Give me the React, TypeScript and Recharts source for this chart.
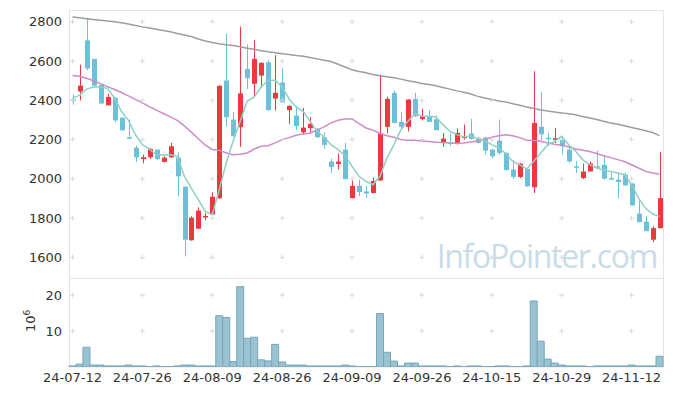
import React from 'react';
import { ComposedChart, Bar, Line, XAxis, YAxis, ReferenceDot } from 'recharts';

// trading days, 24-07-12 .. 24-11-18
const dates = [
  '24-07-12', '24-07-15', '24-07-16', '24-07-17', '24-07-18', '24-07-19', '24-07-22', '24-07-23', '24-07-24', '24-07-25',
  '24-07-26', '24-07-29', '24-07-30', '24-07-31', '24-08-01', '24-08-02', '24-08-05', '24-08-06', '24-08-07', '24-08-08',
  '24-08-09', '24-08-12', '24-08-13', '24-08-14', '24-08-16', '24-08-19', '24-08-20', '24-08-21', '24-08-22', '24-08-23',
  '24-08-26', '24-08-27', '24-08-28', '24-08-29', '24-08-30', '24-09-02', '24-09-03', '24-09-04', '24-09-05', '24-09-06',
  '24-09-09', '24-09-10', '24-09-11', '24-09-12', '24-09-13', '24-09-19', '24-09-20', '24-09-23', '24-09-24', '24-09-25',
  '24-09-26', '24-09-27', '24-09-30', '24-10-02', '24-10-04', '24-10-07', '24-10-08', '24-10-10', '24-10-11', '24-10-14',
  '24-10-15', '24-10-16', '24-10-17', '24-10-18', '24-10-21', '24-10-22', '24-10-23', '24-10-24', '24-10-25', '24-10-28',
  '24-10-29', '24-10-30', '24-10-31', '24-11-01', '24-11-04', '24-11-05', '24-11-06', '24-11-07', '24-11-08', '24-11-11',
  '24-11-12', '24-11-13', '24-11-14', '24-11-15', '24-11-18',
];

const opens = [
  2405, 2445, 2705, 2611, 2479, 2375, 2412, 2312, 2212, 2159,
  2101, 2110, 2149, 2086, 2110, 2108, 1960, 1687, 1746, 1807,
  1819, 1901, 2501, 2302, 2263, 2560, 2484, 2526, 2594, 2409,
  2491, 2350, 2322, 2237, 2258, 2256, 2212, 2088, 2076, 2149,
  1902, 1965, 1936, 1928, 1992, 2265, 2438, 2290, 2265, 2407,
  2305, 2319, 2304, 2183, 2185, 2183, 2210, 2231, 2205, 2210,
  2149, 2195, 2132, 2047, 2010, 2050, 1957, 2265, 2210, 2198,
  2200, 2149, 2064, 2004, 2038, 2064, 2071, 2004, 1996, 2021,
  1976, 1823, 1782, 1690, 1749,
];
const closes = [
  2398, 2475, 2562, 2475, 2384, 2417, 2298, 2248, 2205, 2110,
  2110, 2152, 2100, 2108, 2166, 2013, 1690, 1802, 1838, 1811,
  1909, 2474, 2314, 2217, 2435, 2513, 2611, 2591, 2350, 2438,
  2390, 2372, 2268, 2261, 2280, 2212, 2173, 2060, 2088, 1999,
  1964, 1933, 1925, 1989, 2231, 2407, 2285, 2265, 2404, 2319,
  2319, 2290, 2248, 2205, 2180, 2234, 2215, 2203, 2183, 2144,
  2115, 2132, 2045, 2010, 2078, 1962, 2285, 2227, 2207, 2207,
  2166, 2089, 2057, 2037, 2078, 2059, 2001, 1999, 1984, 1967,
  1865, 1780, 1734, 1749, 1902,
];
const highs = [
  2430, 2582, 2820, 2611, 2479, 2434, 2417, 2312, 2302, 2169,
  2123, 2156, 2149, 2115, 2183, 2135, 1960, 1809, 1855, 1826,
  1931, 2476, 2739, 2341, 2775, 2684, 2707, 2593, 2608, 2630,
  2564, 2374, 2370, 2361, 2314, 2258, 2237, 2103, 2129, 2183,
  1993, 1996, 1965, 2006, 2531, 2418, 2450, 2341, 2406, 2438,
  2356, 2350, 2322, 2234, 2234, 2256, 2276, 2305, 2214, 2214,
  2151, 2302, 2134, 2095, 2080, 2052, 2548, 2441, 2234, 2258,
  2217, 2166, 2089, 2078, 2089, 2144, 2120, 2033, 2033, 2033,
  1978, 1891, 1809, 1758, 2137,
];
const lows = [
  2378, 2400, 2553, 2468, 2380, 2373, 2288, 2244, 2203, 2086,
  2079, 2101, 2095, 2084, 2108, 1911, 1605, 1685, 1744, 1789,
  1817, 1899, 2268, 2215, 2163, 2458, 2416, 2463, 2348, 2348,
  2387, 2280, 2251, 2225, 2231, 2208, 2154, 2030, 2047, 1996,
  1900, 1911, 1902, 1926, 1990, 2231, 2283, 2256, 2242, 2316,
  2298, 2288, 2246, 2163, 2169, 2174, 2200, 2201, 2181, 2125,
  2103, 2123, 2043, 1999, 2004, 1960, 1928, 2197, 2166, 2183,
  2123, 2081, 2030, 1999, 2036, 2057, 1996, 1992, 1902, 1965,
  1863, 1778, 1732, 1678, 1747,
];

const ma5 = [
  2412, 2425, 2457, 2468, 2468, 2461, 2412, 2344, 2298, 2225,
  2174, 2151, 2124, 2121, 2123, 2115, 2013, 1953, 1894, 1834,
  1817, 1945, 2081, 2195, 2293, 2395, 2417, 2468, 2502, 2502,
  2468, 2407, 2366, 2344, 2293, 2242, 2213, 2174, 2149, 2118,
  2064, 2013, 1987, 1970, 2013, 2106, 2174, 2251, 2293, 2332,
  2319, 2319, 2315, 2276, 2242, 2225, 2213, 2220, 2205, 2195,
  2174, 2157, 2129, 2089, 2072, 2050, 2089, 2132, 2174, 2191,
  2217, 2174, 2140, 2098, 2072, 2055, 2044, 2038, 2030, 2021,
  1970, 1902, 1851, 1821, 1809,
];
const ma20 = [
  2526, 2522, 2512, 2500, 2485, 2470, 2455, 2440, 2423, 2405,
  2387, 2368, 2350, 2333, 2316, 2298, 2270, 2238, 2204, 2172,
  2150, 2146, 2132, 2123, 2125, 2132, 2152, 2166, 2169, 2183,
  2200, 2210, 2222, 2229, 2234, 2248, 2265, 2285, 2298, 2305,
  2305, 2281, 2259, 2248, 2231, 2220, 2212, 2200, 2196, 2196,
  2193, 2190, 2186, 2185, 2183, 2181, 2183, 2188, 2193, 2200,
  2212, 2220, 2224, 2220, 2210, 2196, 2195, 2191, 2183, 2176,
  2171, 2163, 2152, 2146, 2139, 2129, 2118, 2108, 2098, 2088,
  2072, 2055, 2038, 2030, 2025,
];
const ma120 = [
  2824, 2820, 2816, 2812, 2808, 2804, 2800, 2795, 2789, 2781,
  2774, 2768, 2762, 2756, 2749, 2740, 2733, 2725, 2712, 2702,
  2694, 2688, 2683, 2679, 2673, 2665, 2660, 2653, 2647, 2642,
  2637, 2633, 2628, 2624, 2618, 2611, 2604, 2598, 2584, 2570,
  2556, 2547, 2540, 2531, 2525, 2520, 2515, 2508, 2500, 2493,
  2486, 2480, 2474, 2465, 2457, 2448, 2441, 2432, 2420, 2412,
  2404, 2397, 2392, 2383, 2375, 2366, 2358, 2351, 2345, 2340,
  2336, 2331, 2326, 2318, 2310, 2302, 2293, 2285, 2278, 2270,
  2262, 2254, 2245, 2236, 2220,
];

// volume, millions
const volumes = [
  0.3, 0.8, 5.5, 0.55, 0.55, 0.3, 0.3, 0.3, 0.55, 0.3,
  0.3, 0.1, 0.3, 0.1, 0.1, 0.3, 0.55, 0.55, 0.3, 0.3,
  0.3, 14.3, 13.8, 1.5, 22.4, 8.0, 8.3, 2.0, 1.7, 6.3,
  1.4, 0.55, 0.55, 0.55, 0.3, 0.3, 0.3, 0.3, 0.3, 0.55,
  0.3, 0.1, 0.1, 0.1, 14.9, 4.1, 1.65, 0.3, 1.1, 1.1,
  0.3, 0.3, 0.3, 0.3, 0.1, 0.3, 0.1, 0.3, 0.3, 0.1,
  0.1, 0.3, 0.3, 0.1, 0.1, 0.3, 18.4, 7.2, 2.2, 1.1,
  0.55, 0.3, 0.3, 0.3, 0.1, 0.3, 0.3, 0.3, 0.3, 0.3,
  0.55, 0.3, 0.3, 0.3, 3.0,
];

const xTicks = ['24-07-12', '24-07-26', '24-08-09', '24-08-26', '24-09-09', '24-09-26', '24-10-15', '24-10-29', '24-11-12'];
const priceTicks = [1600, 1800, 2000, 2200, 2400, 2600, 2800];
const volTicks = [10, 20];

const RED = '#ec393d';
const BLUE = '#6cc1d8';
const GRID = '#d9d9d9';
const FRAME = '#e4e4e4';

const rows = dates.map((date, i) => ({
  date,
  open: opens[i],
  close: closes[i],
  high: highs[i],
  low: lows[i],
  range: [lows[i], highs[i]],
  ma5: ma5[i],
  ma20: ma20[i],
  ma120: ma120[i],
  vol: volumes[i],
}));

function Candle(props: any) {
  const { x, y, width, height, payload } = props;
  if (!payload) return null;
  const { open, close, high, low } = payload;
  const color = close >= open ? RED : BLUE;
  const top = Math.min(y, y + height);
  const h = Math.abs(height);
  const k = h / (high - low || 1);
  const cx = Math.round(x + width / 2) + 0.5;
  const bodyTop = top + (high - Math.max(open, close)) * k;
  const bodyH = Math.max(Math.abs(open - close) * k, 1.5);
  return (
    <g>
      <line x1={cx} x2={cx} y1={top} y2={top + h} stroke={color} strokeWidth={1} />
      <rect x={cx - 2.5} y={bodyTop} width={5} height={bodyH} fill={color} />
    </g>
  );
}

function Cross(props: any) {
  const { cx, cy } = props;
  return <path d={`M${cx - 2.5},${cy}h5M${cx},${cy - 2.5}v5`} stroke={GRID} strokeWidth={1} fill="none" />;
}

const tickStyle = { fontSize: 13, fill: '#333' };

export default function App() {
  return (
    <div style={{ position: 'absolute', left: 0, top: 0, width: 673, height: 396, background: '#fff', fontFamily: '"DejaVu Sans", sans-serif' }}>
      <svg width={673} height={396} style={{ position: 'absolute', left: 0, top: 0 }}>
        <rect x={69.5} y={10.5} width={594} height={356.5} fill="none" stroke={FRAME} />
        <line x1={69} x2={664} y1={278.5} y2={278.5} stroke={FRAME} />
        <text x={657} y={268} textAnchor="end" fontSize={32} letterSpacing={-1.3} fill="#c9dce6" fontFamily='"Open Sans", sans-serif'>
          InfoPointer.com
        </text>
        <text x={35} y={332} transform="rotate(-90 35 332)" fontSize={13} fill="#333">
          10<tspan dy={-5} fontSize={9}>6</tspan>
        </text>
      </svg>

      <div style={{ position: 'absolute', left: 0, top: 0 }}>
        <ComposedChart width={673} height={278} data={rows} margin={{ top: 10, right: 10, bottom: 0, left: 0 }}>
          <XAxis dataKey="date" hide />
          <YAxis
            width={69}
            domain={[1495, 2860]}
            ticks={priceTicks}
            allowDataOverflow
            axisLine={false}
            tickLine={false}
            tickSize={5}
            tickMargin={2}
            tick={tickStyle}
          />
          {xTicks.map((d) =>
            priceTicks.map((v) => (
              <ReferenceDot key={`${d}-${v}`} x={d} y={v} shape={Cross} />
            ))
          )}
          <Line dataKey="ma120" stroke="#9d9d9d" strokeWidth={1.5} dot={false} isAnimationActive={false} />
          <Line dataKey="ma20" stroke="#cc8cc6" strokeWidth={1.5} dot={false} isAnimationActive={false} />
          <Line dataKey="ma5" stroke="#8fd0c4" strokeWidth={1.5} dot={false} isAnimationActive={false} />
          <Bar dataKey="range" shape={Candle} isAnimationActive={false} />
        </ComposedChart>
      </div>

      <div style={{ position: 'absolute', left: 0, top: 278 }}>
        <ComposedChart width={673} height={118} data={rows} margin={{ top: 0, right: 10, bottom: 0, left: 0 }} barCategoryGap={0} barGap={0}>
          <XAxis
            dataKey="date"
            ticks={xTicks}
            interval={0}
            height={29}
            axisLine={false}
            tickLine={false}
            tickSize={4}
            tickMargin={2}
            tick={tickStyle}
          />
          <YAxis
            width={69}
            domain={[0, 24.8]}
            ticks={volTicks}
            allowDataOverflow
            axisLine={false}
            tickLine={false}
            tickSize={5}
            tickMargin={2}
            tick={tickStyle}
          />
          {xTicks.map((d) =>
            volTicks.map((v) => (
              <ReferenceDot key={`${d}-${v}`} x={d} y={v} shape={Cross} />
            ))
          )}
          <Bar dataKey="vol" fill="#9bc2d2" stroke="#76a6bc" strokeWidth={1} isAnimationActive={false} />
        </ComposedChart>
      </div>
    </div>
  );
}
